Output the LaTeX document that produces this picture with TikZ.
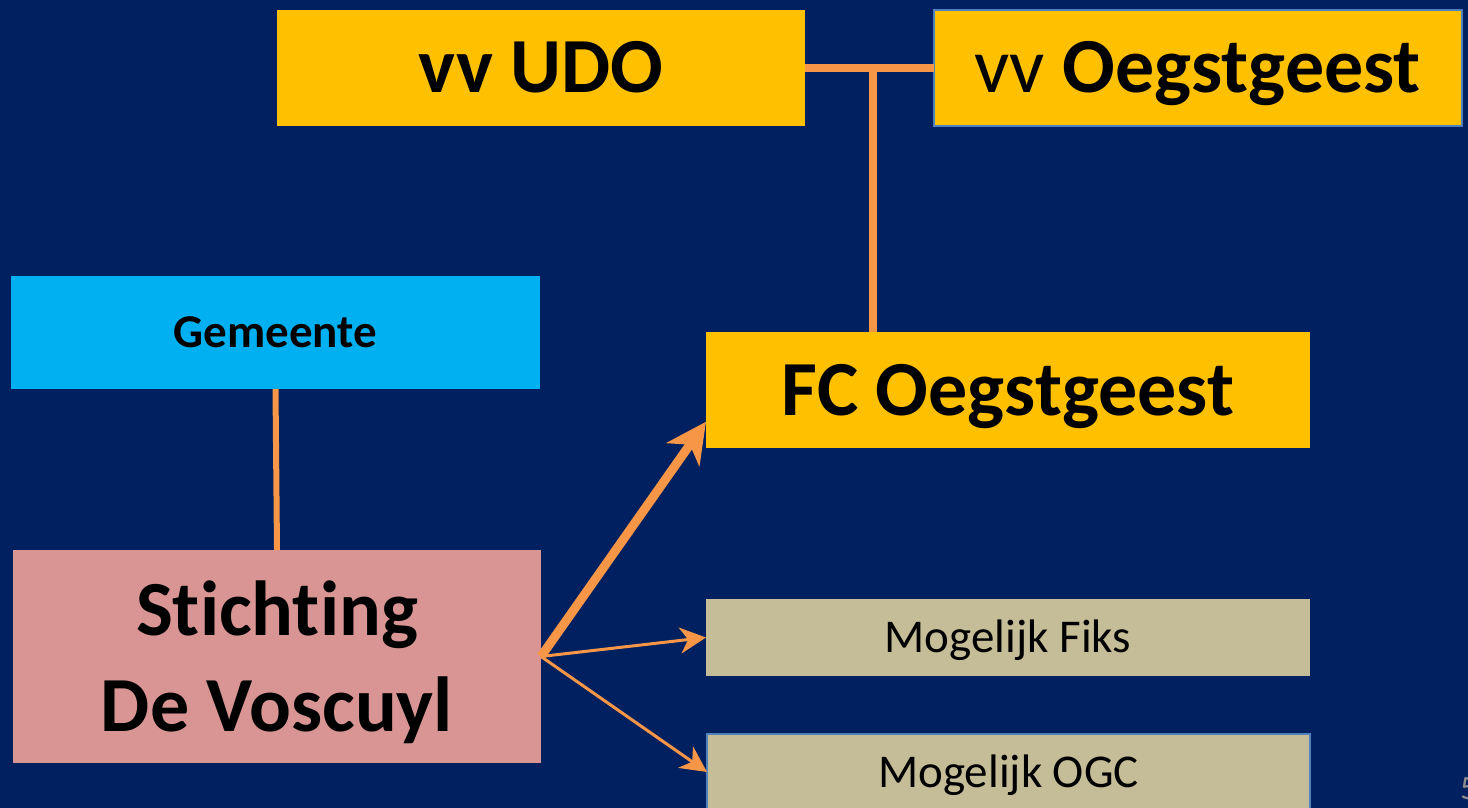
\documentclass[tikz,border=0pt]{standalone}
\usepackage{fontspec}
\setmainfont{Carlito}[Ligatures=NoCommon]
\usetikzlibrary{arrows.meta}
\definecolor{slidenavy}{HTML}{002060}
\definecolor{clubyellow}{HTML}{FFC000}
\definecolor{townblue}{HTML}{00B0F0}
\definecolor{trustpink}{HTML}{D99594}
\definecolor{optiontan}{HTML}{C4BD97}
\definecolor{edgeblue}{HTML}{4F81BD}
\definecolor{linkorange}{HTML}{F79646}
\definecolor{pagegray}{HTML}{8C8C8C}

\begin{document}
\begin{tikzpicture}[x=0.5pt,y=-0.5pt,
        every node/.style={inner sep=0pt,outer sep=0pt,align=center,text=black},
        club/.style={fill=clubyellow,minimum width=264pt,minimum height=58pt,
            font=\fontsize{39}{48}\selectfont\bfseries,text height=25pt,text depth=0pt},
        town/.style={fill=townblue,minimum width=264.5pt,minimum height=56.5pt,
            font=\fontsize{23.5}{28}\selectfont\bfseries,text height=15pt,text depth=0pt},
        trust/.style={fill=trustpink,minimum width=264pt,minimum height=106.5pt,
            font=\fontsize{39}{48}\selectfont\bfseries,text depth=0pt},
        option/.style={fill=optiontan,minimum width=302pt,minimum height=38.5pt,
            font=\fontsize{23.5}{28}\selectfont,text height=15pt,text depth=0pt},
        framed/.style={draw=edgeblue,line width=1pt},
        link/.style={draw=linkorange,line width=4pt},
        feed/.style={draw=linkorange,line width=1.5pt,-{Stealth[length=13pt,width=13pt,inset=4pt]}}]

    \clip (0,0) rectangle (1468,808);
    \fill[slidenavy] (0,0) rectangle (1468,808);

    \node[club] (udo) at (541,68) {vv UDO};
    \node[club,framed] (oeg) at (1197.5,68) {{\mdseries vv} Oegstgeest};
    \node[club,minimum width=302pt] (fc) at (1008,390) {FC Oegstgeest};
    \node[town] (gem) at (275.5,332.5) {Gemeente};
    \node[trust] (stg) at (277,656.5) {Stichting\\De Voscuyl};
    \node[option] (fiks) at (1008,637.5) {Mogelijk Fiks};
    \node[option,framed,minimum width=301.5pt] (ogc) at (1008.5,772) {Mogelijk OGC};
    \node[anchor=west,text=pagegray,font=\fontsize{17}{20}\selectfont] (num) at (1460,789) {5};

    \coordinate (knot) at (873,68);
    \draw[link] (udo.east) -- (oeg.west);
    \draw[link] (knot) -- (knot |- fc.north);
    \draw[link,line width=3pt] (gem.south) -- (stg.north);
    \draw[link,line width=4.5pt,-{Stealth[length=20pt,width=20pt,inset=6pt]}] (stg.east) -- (fc.186);
    \draw[feed] (stg.east) -- (fiks.west);
    \draw[feed] (stg.east) -- (ogc.west);

\end{tikzpicture}
\end{document}
